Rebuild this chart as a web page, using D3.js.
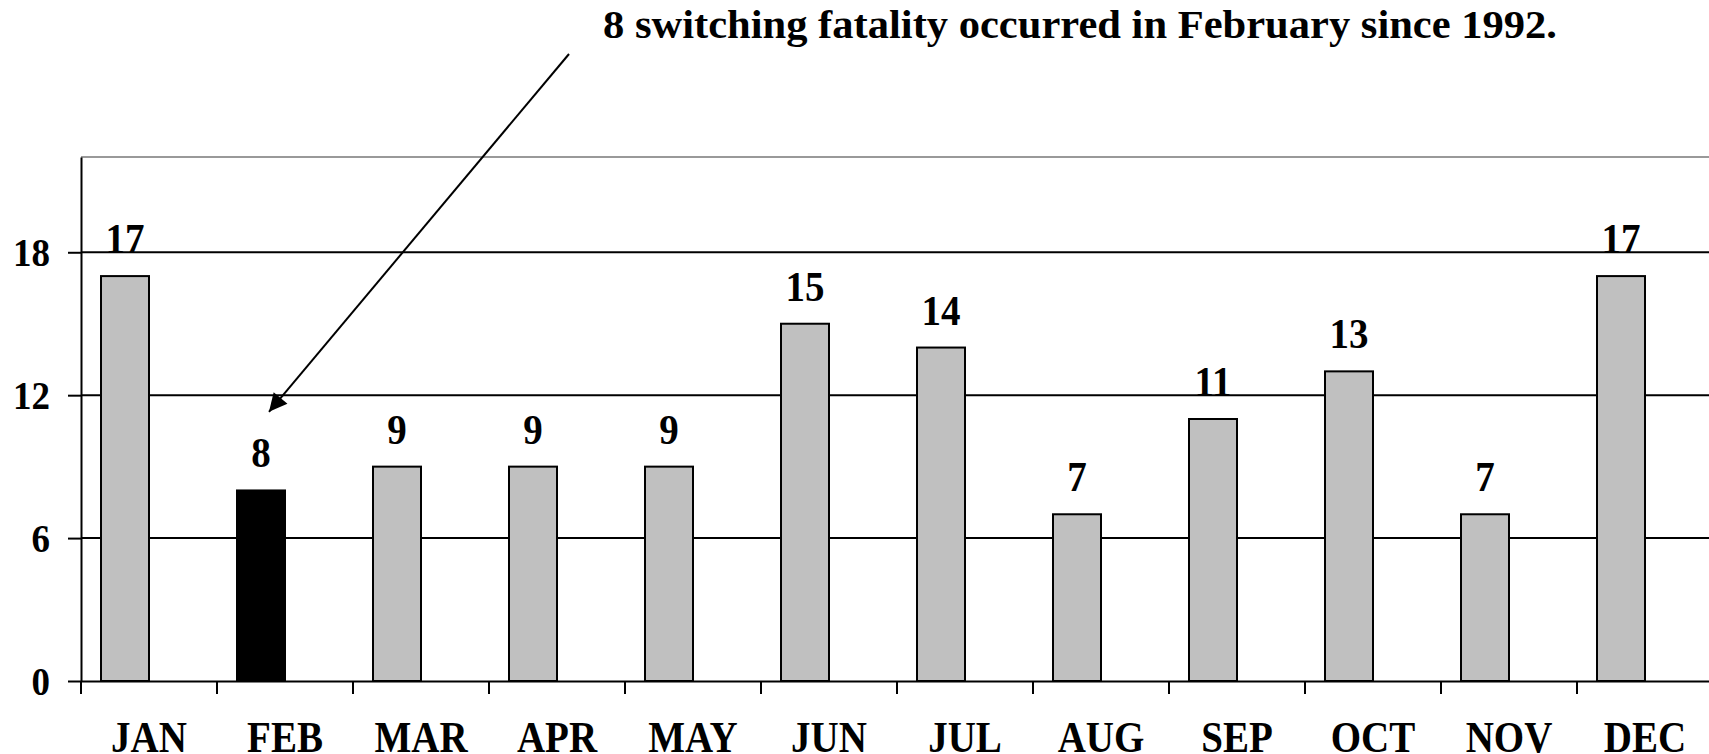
<!DOCTYPE html>
<html>
<head>
<meta charset="utf-8">
<script src="https://cdn.jsdelivr.net/npm/d3@7"></script>
<style>
  html, body { margin: 0; padding: 0; background: #fff; overflow: hidden; }
  text { font-family: "Liberation Serif", "Times New Roman", serif; font-weight: bold; fill: #000; }
</style>
</head>
<body>
<div id="chart"></div>
<script>
const months = ['JAN', 'FEB', 'MAR', 'APR', 'MAY', 'JUN', 'JUL', 'AUG', 'SEP', 'OCT', 'NOV', 'DEC'];
const fatalities = [17, 8, 9, 9, 9, 15, 14, 7, 11, 13, 7, 17];
const yTicks = [0, 6, 12, 18];
const highlight = 'FEB';
const title = '8 switching fatality occurred in February since 1992.';

const width = 1709;
const height = 754;
const plotLeft = 81, plotTop = 157, plotZero = 681;
const step = 136;

const svg = d3.select('#chart').append('svg')
    .attr('width', width)
    .attr('height', height);

const x = d3.scaleBand()
    .domain(months)
    .range([plotLeft, plotLeft + step * months.length])
    .padding(0);

// excel clustered layout: the bar sits in the left slot of two
const slot = d3.scaleBand()
    .domain(['count', 'empty'])
    .range([0, x.bandwidth()])
    .paddingInner(0)
    .paddingOuter(0.4167);

const y = d3.scaleLinear()
    .domain([0, 22])
    .range([plotZero, plotTop]);

// top border
svg.append('line')
    .attr('x1', plotLeft).attr('x2', x.range()[1])
    .attr('y1', y(22)).attr('y2', y(22))
    .attr('stroke', '#999').attr('stroke-width', 2);

// gridlines
svg.append('g').selectAll('line')
  .data(yTicks.filter(d => d > 0))
  .join('line')
    .attr('x1', plotLeft).attr('x2', x.range()[1])
    .attr('y1', d => y(d)).attr('y2', d => y(d))
    .attr('stroke', '#000').attr('stroke-width', 2);

// bars
svg.append('g').selectAll('rect')
  .data(months)
  .join('rect')
    .attr('x', d => x(d) + slot('count'))
    .attr('y', (d, i) => y(fatalities[i]))
    .attr('width', slot.bandwidth())
    .attr('height', (d, i) => plotZero - y(fatalities[i]))
    .attr('fill', d => d === highlight ? '#000' : '#c0c0c0')
    .attr('stroke', '#000')
    .attr('stroke-width', 2);

// value labels
svg.append('g').selectAll('text')
  .data(months)
  .join('text')
    .attr('text-anchor', 'middle')
    .attr('font-size', 39)
    .attr('transform', (d, i) =>
      `translate(${x(d) + slot('count') + slot.bandwidth() / 2},${y(fatalities[i]) - 23}) scale(1,1.1)`)
    .text((d, i) => fatalities[i]);

// y axis
const yAxis = svg.append('g')
    .attr('transform', `translate(${plotLeft},0)`)
    .call(d3.axisLeft(y).tickValues(yTicks).tickSize(13).tickSizeOuter(0).tickPadding(18));
yAxis.select('.domain').attr('stroke', '#000').attr('stroke-width', 2);
yAxis.selectAll('.tick line').attr('stroke', '#000').attr('stroke-width', 2);
yAxis.selectAll('.tick text')
    .attr('font-size', 37)
    .attr('font-family', null)
    .attr('dy', null)
    .attr('x', null)
    .attr('transform', 'translate(-31,13) scale(1,1.08)');

// x axis
const xAxis = svg.append('g')
    .attr('transform', `translate(0,${plotZero})`)
    .call(d3.axisBottom(x).tickSize(0).tickSizeOuter(0));
xAxis.select('.domain').attr('stroke', '#000').attr('stroke-width', 2);
xAxis.selectAll('.tick text')
    .attr('font-size', 39)
    .attr('font-family', null)
    .attr('dy', null)
    .attr('y', null)
    .attr('transform', 'translate(0,71) scale(1,1.13)');

// category boundary ticks
xAxis.append('g').selectAll('line')
  .data(months)
  .join('line')
    .attr('x1', d => x(d)).attr('x2', d => x(d))
    .attr('y1', 0).attr('y2', 13)
    .attr('stroke', '#000').attr('stroke-width', 2);

// annotation
svg.append('defs').append('marker')
    .attr('id', 'head')
    .attr('markerUnits', 'userSpaceOnUse')
    .attr('viewBox', '0 0 10 10')
    .attr('refX', 10).attr('refY', 5)
    .attr('markerWidth', 24).attr('markerHeight', 18)
    .attr('orient', 'auto')
  .append('path')
    .attr('d', 'M0,0 L10,5 L0,10 Z')
    .attr('fill', '#000');

const tipX = x(highlight) + slot('count') + slot.bandwidth() / 2 + 8;
const tipY = y(11.3);
svg.append('line')
    .attr('x1', 569).attr('y1', 54)
    .attr('x2', tipX).attr('y2', tipY)
    .attr('stroke', '#000').attr('stroke-width', 2)
    .attr('marker-end', 'url(#head)');

svg.append('text')
    .attr('x', 603)
    .attr('y', 38)
    .attr('font-size', 39)
    .attr('textLength', 954)
    .attr('lengthAdjust', 'spacingAndGlyphs')
    .text(title);
</script>
</body>
</html>
